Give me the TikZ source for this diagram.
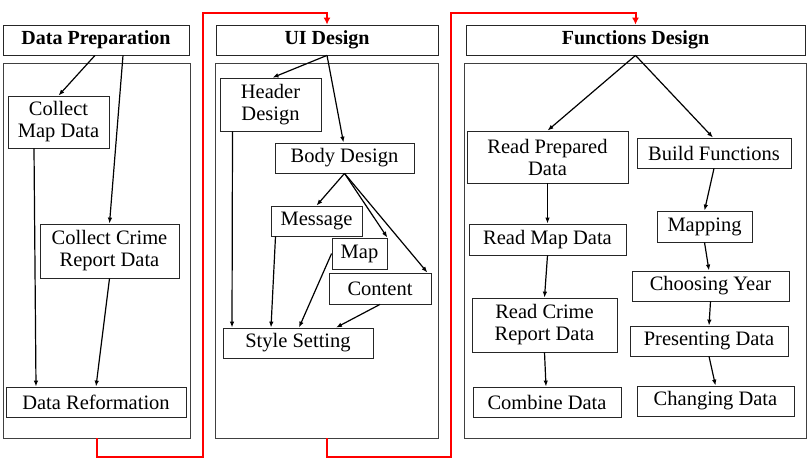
\documentclass[tikz,border=0pt]{standalone}
\usepackage{fontspec}
\setmainfont{Liberation Serif}
\usetikzlibrary{arrows.meta,calc,shadows}
\begin{document}
\begin{tikzpicture}[x=1pt, y=-1pt,
      box/.style={draw=black!85, line width=0.8pt, fill=white, inner sep=0pt,
                  align=center, font=\fontsize{20.5}{22}\selectfont},
      ttl/.style={box, minimum height=30pt, font=\fontsize{20}{22}\selectfont\bfseries},
      panel/.style={draw=black!75, line width=0.9pt, fill=white, inner sep=0pt,
                    drop shadow={shadow xshift=1pt, shadow yshift=-1pt, opacity=0.25}},
      arr/.style={-{Latex[length=6pt,width=4.5pt]}, line width=1.2pt, black},
      flow/.style={-{Latex[length=7pt,width=7pt]}, line width=2pt, red}
    ]
      \useasboundingbox (0,0) rectangle (810,472);

      % panels
      \node[panel, minimum width=187pt, minimum height=375pt] (prepbox) at (96.5,250.5) {};
      \node[panel, minimum width=223pt, minimum height=375pt] (uibox) at (326.5,250.5) {};
      \node[panel, minimum width=342pt, minimum height=375pt] (fnbox) at (635,250.5) {};

      % Data Preparation
      \node[ttl, minimum width=186pt] (prep) at (96,40) {Data Preparation};
      \node[box, minimum width=101pt, minimum height=52pt] (mapdata) at (58.5,122) {Collect\\Map Data};
      \node[box, minimum width=139pt, minimum height=54pt] (crimedata) at (109.5,251) {Collect Crime\\Report Data};
      \node[box, minimum width=180pt, minimum height=30pt] (reform) at (96,402) {Data Reformation};

      \draw[arr] ([xshift=-1pt]prep.south) -- (mapdata.north);
      \draw[arr] ([xshift=27pt]prep.south) -- (crimedata.north);
      \draw[arr] ([xshift=-24.5pt]mapdata.south) -- ([xshift=-60pt]reform.north);
      \draw[arr] (crimedata.south) -- (reform.north);

      % UI Design
      \node[ttl, minimum width=222pt] (uititle) at (327,40) {UI Design};
      \node[box, minimum width=101pt, minimum height=53pt] (header) at (270.5,104.5) {Header\\Design};
      \node[box, minimum width=139pt, minimum height=30pt] (body) at (344.5,158) {Body Design};
      \node[box, minimum width=91pt, minimum height=30pt] (message) at (316.5,221) {Message};
      \node[box, minimum width=55pt, minimum height=31pt] (mapui) at (359.5,253.5) {Map};
      \node[box, minimum width=102pt, minimum height=31pt] (content) at (380,288.5) {Content};
      \node[box, minimum width=150pt, minimum height=30pt] (style) at (298,343) {Style Setting};

      \draw[arr] (uititle.south) -- ([xshift=2pt]header.north);
      \draw[arr] (uititle.south) -- ([xshift=-1pt]body.north);
      \draw[arr] (body.south) -- (message.north);
      \draw[arr] (body.south) -- (mapui.north east);
      \draw[arr] (body.south) -- ([xshift=-4pt]content.north east);
      \draw[arr] ([xshift=-38pt]header.south) -- ([xshift=-66pt]style.north);
      \draw[arr] ([xshift=-41pt]message.south) -- ([xshift=-27pt]style.north);
      \draw[arr] (mapui.west) -- ([xshift=1pt]style.north);
      \draw[arr] (content.south) -- ([xshift=38pt]style.north);

      % Functions Design
      \node[ttl, minimum width=339pt] (fntitle) at (635.5,40) {Functions Design};
      \node[box, minimum width=161pt, minimum height=52pt] (readprep) at (547.5,157) {Read Prepared\\Data};
      \node[box, minimum width=154pt, minimum height=30pt] (build) at (714,153) {Build Functions};
      \node[box, minimum width=95pt, minimum height=31pt] (mapping) at (704.5,226.5) {Mapping};
      \node[box, minimum width=157pt, minimum height=31pt] (readmap) at (547.5,239.5) {Read Map Data};
      \node[box, minimum width=157pt, minimum height=30pt] (year) at (710.5,286) {Choosing Year};
      \node[box, minimum width=145pt, minimum height=54pt] (readcrime) at (544.5,325) {Read Crime\\Report Data};
      \node[box, minimum width=158pt, minimum height=30pt] (present) at (709,341) {Presenting Data};
      \node[box, minimum width=148pt, minimum height=30pt] (combine) at (547,402) {Combine Data};
      \node[box, minimum width=157pt, minimum height=30pt] (changing) at (715.5,401) {Changing Data};

      \draw[arr] (fntitle.south) -- (readprep.north);
      \draw[arr] (fntitle.south) -- ([xshift=-1pt]build.north);
      \draw[arr] (readprep.south) -- (readmap.north);
      \draw[arr] (build.south) -- (mapping.north);
      \draw[arr] (readmap.south) -- (readcrime.north);
      \draw[arr] (mapping.south) -- ([xshift=-1.5pt]year.north);
      \draw[arr] (readcrime.south) -- ([xshift=-1pt]combine.north);
      \draw[arr] (year.south) -- (present.north);
      \draw[arr] (present.south) -- (changing.north);

      % red flow between stages
      \draw[flow] (prepbox.south) -- ++(0,19) -| (203,13) -| (uititle.north);
      \draw[flow] (uibox.south) -- ++(0,19) -| (451,13) -| (fntitle.north);
    \end{tikzpicture}
\end{document}
